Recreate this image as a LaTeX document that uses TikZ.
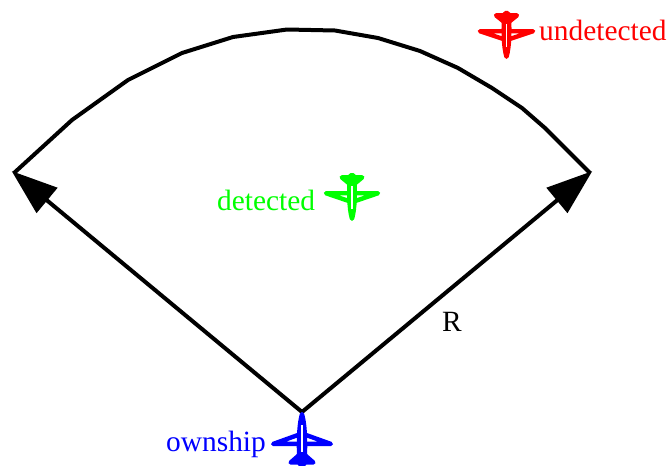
\documentclass[tikz,border=0pt]{standalone}
\usepackage{fontspec}
\setmainfont{Liberation Serif}
\usetikzlibrary{arrows.meta}
\definecolor{pblue}{RGB}{0,0,255}
\definecolor{pgreen}{RGB}{0,255,0}
\definecolor{pred}{RGB}{255,0,0}
\tikzset{
  edge/.style={line width=4pt,draw=black,line join=round},
  radius/.style={edge,-{Triangle[length=46pt,width=32pt]},shorten >=-3pt},
  lab/.style={font=\fontsize{29.4}{32}\selectfont,inner sep=0pt,anchor=base west},
  planeline/.style={line width=4.4pt,line cap=round,line join=round},
  plane/.pic={
    \draw[planeline,pic actions] (0,2) .. controls (-3.4,14) and (-3.4,34) .. (-2.4,50) -- (0,52) -- (2.4,50) .. controls (3.4,34) and (3.4,14) .. (0,2) -- cycle;
    \fill[pic actions] (0,2) .. controls (-3.4,14) and (-3.4,34) .. (-2.4,50) -- (2.4,50) .. controls (3.4,34) and (3.4,14) .. (0,2) -- cycle;
    \draw[planeline,pic actions] (-3,22) -- (-28,31) -- (28,31) -- (3,22);
    \draw[planeline,pic actions] (-3,42) -- (-11,49) -- (11,49) -- (3,42);
    \fill[pic actions] (-3,42) -- (-11,49) -- (11,49) -- (3,42) -- cycle;
    \draw[white,line width=1.2pt] (0,13) -- (0,39);
  }
}
\begin{document}
\begin{tikzpicture}[x=1pt,y=-1pt]
\useasboundingbox (0,0) rectangle (667,466);
\coordinate (origin) at (302,412);
\coordinate (left) at (14,173);
\coordinate (right) at (590,173);
\draw[edge] (left) -- (72,120) -- (128,80) -- (182,53) -- (233,37) -- (287,29.5) -- (335,30.5) -- (378,38) -- (420,51) -- (458,68) -- (492,88) -- (522,108) -- (545,128) -- (right);
\draw[radius] (origin) -- (left);
\draw[radius] (origin) -- (right);
% aircraft
\pic[pblue,scale=1.03] at (302,412) {plane};
\pic[pgreen,yscale=-0.88,xscale=0.93] at (352,220.5) {plane};
\pic[pred,yscale=-0.88,xscale=0.95] at (506.5,58.5) {plane};
% labels
\node[lab,text=pblue] (own) at (166,451) {ownship};
\node[lab,text=pgreen] (det) at (217,210) {detected};
\node[lab,text=pred] (und) at (539,40) {undetected};
\node[lab,text=black] (rlab) at (442,331) {R};
\end{tikzpicture}
\end{document}
